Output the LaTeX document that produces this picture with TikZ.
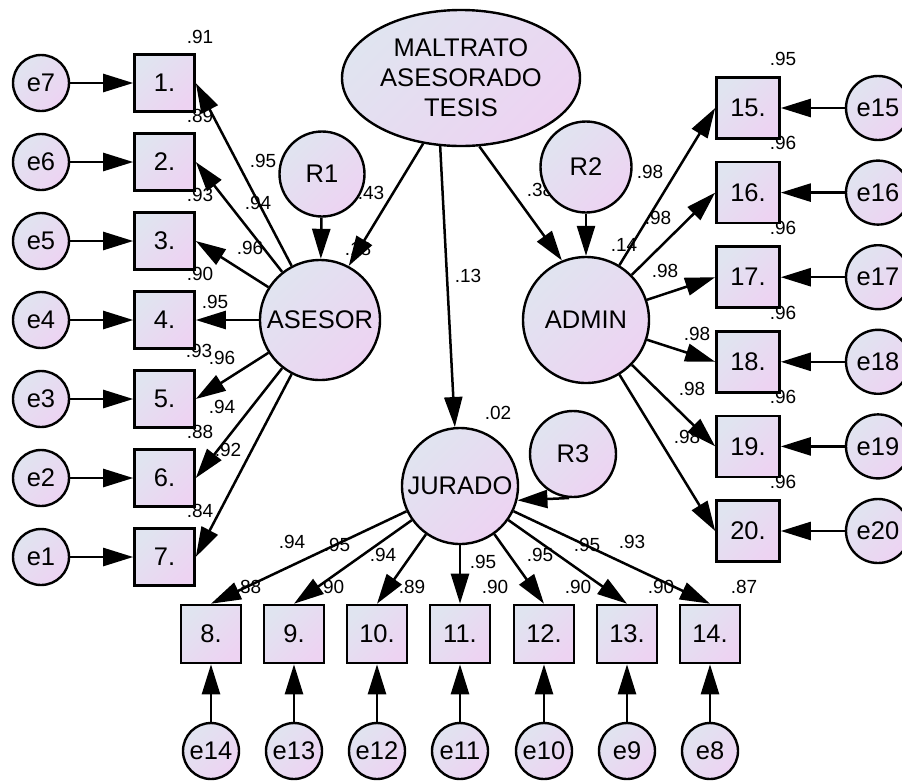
\documentclass[tikz,border=0pt]{standalone}
\usepackage{fontspec}
\setmainfont{Liberation Sans}
\usetikzlibrary{arrows.meta,shapes.geometric}
\definecolor{fillA}{RGB}{224,228,240}
\definecolor{fillB}{RGB}{237,211,242}
\tikzset{
  gfill/.style={top color=fillA, bottom color=fillB, shading angle=45},
  bigfont/.style={font=\fontsize{25.5}{30}\selectfont},
  obsbox/.style={draw, line width=2.6pt, gfill, minimum width=60pt, minimum height=57pt, inner sep=0pt, bigfont},
  obsboxR/.style={obsbox, minimum width=63pt, minimum height=61pt},
  errc/.style={circle, draw, line width=2.4pt, gfill, minimum size=56pt, inner sep=0pt, bigfont},
  errcR/.style={errc, minimum size=64pt},
  latent/.style={circle, draw, line width=2.4pt, gfill, inner sep=0pt, bigfont},
  coef/.style={font=\fontsize{19}{19}\selectfont, inner sep=0pt},
  arr/.style={line width=2.5pt, -{Triangle[length=30pt,width=18pt]}}
}
\begin{document}
\begin{tikzpicture}[x=1pt,y=-1pt]
\useasboundingbox (0,0) rectangle (902,780);
% ---------- coefficient labels (drawn first, under shapes) ----------
% left R^2
\node[coef] (q1) at (200,37) {.91};
\node[coef] (q2) at (200,116) {.89};
\node[coef] (q3) at (200,195) {.93};
\node[coef] (q4) at (200,274) {.90};
\node[coef] (q5) at (199,351) {.93};
\node[coef] (q6) at (200,432) {.88};
\node[coef] (q7) at (200,511) {.84};
% left loadings
\node[coef] (p1) at (263,161) {.95};
\node[coef] (p2) at (258,203) {.94};
\node[coef] (p3) at (250,248) {.96};
\node[coef] (p4) at (215,302) {.95};
\node[coef] (p5) at (222,358) {.96};
\node[coef] (p6) at (222,407) {.94};
\node[coef] (p7) at (228,450) {.92};
% structural
\node[coef] (s1) at (371,193) {.43};
\node[coef] (s2) at (358,249) {.18};
\node[coef] (s3) at (540,190) {.38};
\node[coef] (s4) at (624,245) {.14};
\node[coef] (s5) at (468,276) {.13};
\node[coef] (s6) at (498,413) {.02};
% right R^2
\node[coef] (q15) at (783,59) {.95};
\node[coef] (q16) at (783,143) {.96};
\node[coef] (q17) at (783,228) {.96};
\node[coef] (q18) at (783,313) {.96};
\node[coef] (q19) at (783,397) {.96};
\node[coef] (q20) at (783,482) {.96};
% right loadings
\node[coef] (p15) at (650,172) {.98};
\node[coef] (p16) at (658,218) {.98};
\node[coef] (p17) at (665,271) {.98};
\node[coef] (p18) at (697,334) {.98};
\node[coef] (p19) at (692,389) {.98};
\node[coef] (p20) at (687,437) {.98};
% bottom loadings
\node[coef] (p8) at (292,542) {.94};
\node[coef] (p9) at (337,545) {.95};
\node[coef] (p10) at (383,555) {.94};
\node[coef] (p11) at (483,562) {.95};
\node[coef] (p12) at (540,555) {.95};
\node[coef] (p13) at (587,545) {.95};
\node[coef] (p14) at (632,542) {.93};
% bottom R^2
\node[coef] (q8) at (248,587) {.88};
\node[coef] (q9) at (331,587) {.90};
\node[coef] (q10) at (412,587) {.89};
\node[coef] (q11) at (495,587) {.90};
\node[coef] (q12) at (578,587) {.90};
\node[coef] (q13) at (661,587) {.90};
\node[coef] (q14) at (744,587) {.87};

% ---------- latent variables ----------
\node[ellipse, draw, line width=2.4pt, gfill, minimum width=238pt, minimum height=136pt, inner sep=0pt, bigfont, align=center] (malt) at (461,78) {MALTRATO\\ASESORADO\\TESIS};
\node[latent, minimum size=120pt] (asesor) at (320,320) {ASESOR};
\node[latent, minimum size=126pt] (admin) at (586,320) {ADMIN};
\node[latent, minimum size=116pt] (jurado) at (460,486) {JURADO};
\node[latent, minimum size=85pt] (r1) at (322,174) {R1};
\node[latent, minimum size=91pt] (r2) at (586,167) {R2};
\node[latent, minimum size=86pt] (r3) at (573,454) {R3};

% ---------- left indicators ----------
\foreach \i/\y/\e in {1/83/7, 2/162/6, 3/241/5, 4/320/4, 5/399/3, 6/478/2, 7/557/1} {
  \node[obsbox] (b\i) at (164.5,\y) {\i.};
  \node[errc] (e\e) at (41,\y) {e\e};
}
% ---------- right indicators ----------
\foreach \i/\y in {15/108, 16/192.6, 17/277.2, 18/361.8, 19/446.4, 20/531} {
  \node[obsboxR] (b\i) at (748,\y) {\i.};
  \node[errcR] (e\i) at (878,\y) {e\i};
}
% ---------- bottom indicators ----------
\foreach \i/\x/\e in {8/211/14, 9/294/13, 10/377/12, 11/460/11, 12/544/10, 13/627/9, 14/710/8} {
  \node[obsbox, minimum height=58pt] (b\i) at (\x,634) {\i.};
  \node[errc] (e\e) at (\x,751) {e\e};
}

% ---------- connectors ----------
\draw[arr] (malt.-120) -- (asesor.62);
\draw[arr] (malt.-107) -- (jurado.95);
\draw[arr] (malt.-75) -- (admin.112);
\draw[arr] (r1) -- (asesor);
\draw[arr] (r2) -- (admin);
\draw[arr] (r3.-95) -- (jurado.-14);

\foreach \i/\e in {1/7, 2/6, 3/5, 4/4, 5/3, 6/2, 7/1} {
  \draw[arr] (asesor) -- (b\i.east);
  \draw[arr] (e\e) -- (b\i.west);
}
\foreach \i in {15,16,17,18,19,20} {
  \draw[arr] (admin) -- (b\i.west);
  \draw[arr] (e\i) -- (b\i.east);
}
\foreach \i/\e in {8/14, 9/13, 10/12, 11/11, 12/10, 13/9, 14/8} {
  \draw[arr] (jurado) -- (b\i.north);
  \draw[arr] (e\e) -- (b\i.south);
}
\end{tikzpicture}
\end{document}
